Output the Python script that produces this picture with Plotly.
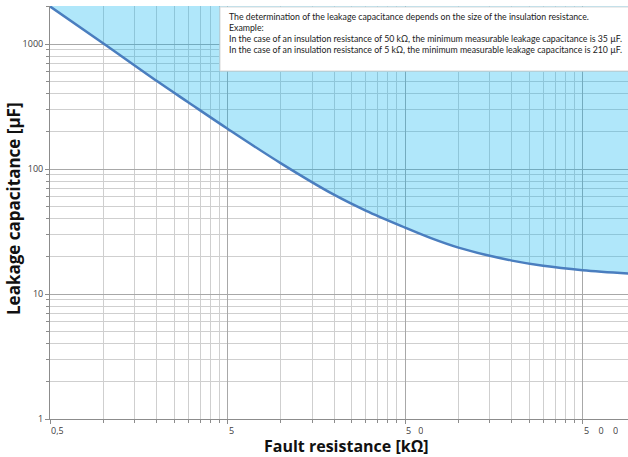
import numpy as np
import plotly.graph_objects as go

# Data
resistance_kohm = [0.5, 1, 2, 3, 5, 10, 20, 30, 50, 70, 100, 150, 200, 300, 500, 903]
capacitance_uf = [2000, 1010, 505, 342, 210, 111, 62, 46.5, 34, 28, 23.5, 20.2, 18.5, 16.8, 15.5, 14.6]

x_tick_vals = [0.5, 5, 50, 500]
x_tick_text = ["0,5", "5", "5\u00a0\u00a0\u00a00", "5\u00a0\u00a0\u00a0\u00a00\u00a0\u00a0\u00a0\u00a00"]
y_tick_vals = [1, 10, 100, 1000]
y_tick_text = ["1", "10", "100", "1000"]

x_minor = [m * d for d in (0.5, 5, 50) for m in (2, 3, 4, 5, 6, 7, 8, 9)]
y_minor = [m * d for d in (1, 10, 100, 1000) for m in range(2, 10)]

note_lines = [
    "The determination of the leakage capacitance depends on the size of the insulation resistance.",
    "Example:",
    "In the case of an insulation resistance of 50 k\u03a9, the minimum measurable leakage capacitance is 35 \u00b5F.",
    "In the case of an insulation resistance of 5 k\u03a9, the minimum measurable leakage capacitance is 210 \u00b5F.",
]

FILL_TOP = 1e5

fig = go.Figure()
fig.add_trace(go.Scatter(
    x=resistance_kohm, y=[FILL_TOP] * len(resistance_kohm),
    mode="lines", line=dict(width=0, color="rgba(0,0,0,0)"),
    hoverinfo="skip", showlegend=False))
fig.add_trace(go.Scatter(
    x=resistance_kohm, y=capacitance_uf,
    mode="lines", line=dict(color="#4A7EBF", width=2.5, shape="spline", smoothing=1.0),
    fill="tonexty", fillcolor="rgba(0,176,240,0.31)",
    showlegend=False))

x0 = np.log10(0.5)
fig.update_xaxes(
    type="log", range=[x0, x0 + 3.256],
    tickvals=x_tick_vals, ticktext=x_tick_text, showticklabels=False,
    showgrid=True, gridcolor="#a8a8a8", gridwidth=1,
    showline=True, linecolor="#8c8c8c", linewidth=1,
    ticks="outside", ticklen=4, tickcolor="#8c8c8c",
    minor=dict(tickvals=x_minor, showgrid=True, gridcolor="#cfcfcf", gridwidth=1,
               ticks="outside", ticklen=3, tickcolor="#8c8c8c"),
    zeroline=False, fixedrange=True,
)
fig.update_yaxes(
    type="log", range=[0, np.log10(2014)],
    tickvals=y_tick_vals, ticktext=y_tick_text,
    tickfont=dict(family="Open Sans", size=9, color="#404040"),
    showgrid=True, gridcolor="#a8a8a8", gridwidth=1,
    showline=True, linecolor="#8c8c8c", linewidth=1,
    ticks="outside", ticklen=4, tickcolor="#8c8c8c",
    minor=dict(tickvals=y_minor, showgrid=True, gridcolor="#cfcfcf", gridwidth=1,
               ticks="outside", ticklen=3, tickcolor="#8c8c8c"),
    zeroline=False, fixedrange=True,
)

annotations = []
for v, t in zip(x_tick_vals, x_tick_text):
    annotations.append(dict(
        x=np.log10(v), xref="x", xanchor="left", xshift=-1,
        y=-(430 - 419) / 413, yref="paper", yanchor="middle", height=10,
        text=t, showarrow=False,
        font=dict(family="Open Sans", size=9, color="#404040")))

annotations.append(dict(
    x=-37 / 578, xref="paper", xanchor="center",
    y=(419 - 209) / 413, yref="paper", yanchor="middle",
    text="<b>Leakage capacitance [\u00b5F]</b>", textangle=-90, showarrow=False,
    font=dict(family="Open Sans", size=17, color="#111111")))

annotations.append(dict(
    x=(346 - 50) / 578, xref="paper", xanchor="center",
    y=-(446.5 - 419) / 413, yref="paper", yanchor="middle",
    text="<b>Fault resistance [k\u03a9]</b>", showarrow=False,
    font=dict(family="Open Sans", size=16, color="#111111")))

fig.add_shape(type="rect", xref="paper", yref="paper",
              x0=(220 - 50) / 578, x1=1.01, y0=(419 - 71) / 413, y1=(419 - 7) / 413,
              fillcolor="white", line=dict(color="#d9d9d9", width=1), layer="above")

for i, line in enumerate(note_lines):
    annotations.append(dict(
        x=(227 - 50) / 578, xref="paper", xanchor="left",
        y=(419 - (16.7 + 11 * i)) / 413, yref="paper", yanchor="middle",
        text=line, showarrow=False,
        font=dict(family="Lato", size=8.75, color="#222222")))

fig.update_layout(
    width=628, height=457,
    margin=dict(l=50, r=0, t=6, b=38),
    paper_bgcolor="white", plot_bgcolor="white",
    annotations=annotations,
)

fig.write_html("out.html", config={"displayModeBar": False},
               post_script="document.body.style.margin='0';document.body.style.overflow='hidden';")
